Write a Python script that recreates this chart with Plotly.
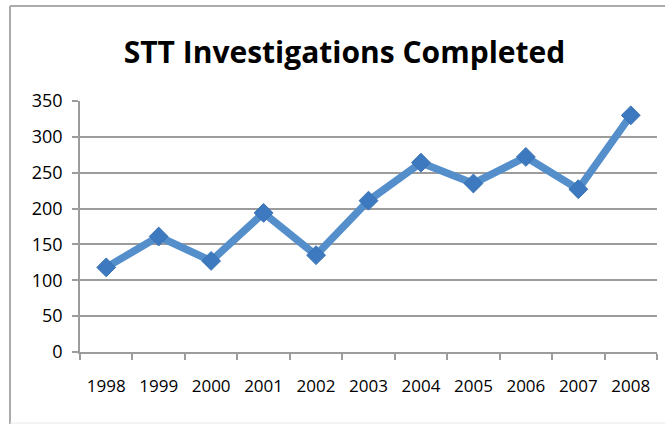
import plotly.graph_objects as go

years = ["1998", "1999", "2000", "2001", "2002", "2003", "2004", "2005", "2006", "2007", "2008"]
completed = [118, 161, 127, 194, 135, 211, 264, 235, 272, 227, 330]
y_ticks = [0, 50, 100, 150, 200, 250, 300, 350]

W, H = 665, 424
L, R, T, B = 80, 8, 101, 72
pw, ph = W - L - R, H - T - B

def px_x(x):
    return (x - L) / pw

def px_y(y):
    return (H - B - y) / ph

fig = go.Figure()
fig.add_trace(go.Scatter(
    x=years, y=completed, mode="lines+markers",
    line=dict(color="#558FCB", width=7.5),
    marker=dict(symbol="diamond", size=14.5, color="#3D79BE",
                line=dict(color="#3A72B4", width=1)),
    showlegend=False,
))

font_stack = "Open Sans, Arial, sans-serif"
grid_col = "#9c9c9c"

fig.update_layout(
    width=W, height=H,
    margin=dict(l=L, r=R, t=T, b=B, autoexpand=False),
    paper_bgcolor="white", plot_bgcolor="white",
    title=dict(text="<b>STT Investigations Completed</b>", x=0.518, xanchor="center",
               y=1 - 52 / H, yanchor="middle",
               font=dict(family=font_stack, size=30, color="black")),
    xaxis=dict(type="category", showgrid=False, showline=True, linecolor=grid_col,
               linewidth=1.5, ticks="outside", tickson="boundaries", ticklen=6,
               tickcolor=grid_col, tickwidth=1.5, tickangle=0, ticklabelstandoff=18,
               tickfont=dict(family=font_stack, size=17, color="black"),
               range=[-0.5, 10.5]),
    yaxis=dict(range=[0, 350], tickvals=y_ticks, showgrid=True, gridcolor=grid_col,
               gridwidth=1.5, showline=True, linecolor=grid_col, linewidth=1.5,
               ticks="outside", ticklen=6, tickcolor=grid_col, tickwidth=1.5,
               zeroline=False, ticklabelstandoff=6,
               tickfont=dict(family=font_stack, size=18, color="black")),
    shapes=[
        dict(type="line", xref="paper", yref="paper",
             x0=px_x(10), x1=px_x(W + 5), y0=px_y(6), y1=px_y(6),
             line=dict(color="#ababab", width=2)),
        dict(type="line", xref="paper", yref="paper",
             x0=px_x(10), x1=px_x(10), y0=px_y(6), y1=px_y(H + 5),
             line=dict(color="#ababab", width=2)),
        dict(type="line", xref="paper", yref="paper",
             x0=px_x(10), x1=px_x(W + 5), y0=px_y(423), y1=px_y(423),
             line=dict(color="#e8e8e8", width=1)),
    ],
)

fig.write_html("out.html", config={"displayModeBar": False},
               post_script="document.body.style.margin='0';")
